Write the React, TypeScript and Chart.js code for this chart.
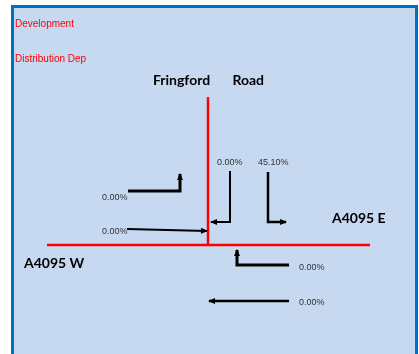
import React, { useEffect, useRef } from "react";
import { Chart, registerables } from "chart.js";

Chart.register(...registerables);

// Diagram coordinates: origin at the junction of the two roads, y up.
const headerLines = ["Development", "Distribution Dep"];
const headerAnchors = [
  { x: -193, y: 221 },
  { x: -193, y: 186 },
];

const roadNames = ["Fringford   Road", "A4095 W", "A4095 E"];
const roadNameAnchors = [
  { x: 0.5, y: 165, align: "center" },
  { x: -184, y: -18, align: "left" },
  { x: 124, y: 27, align: "left" },
];

const roads = [
  [{ x: 0, y: 148 }, { x: 0, y: 0 }],
  [{ x: -161, y: 0 }, { x: 162, y: 0 }],
];

const movements = ["W left", "W ahead", "N right", "N left", "E right", "E ahead"];
const turnShares = [0.0, 0.0, 0.0, 45.1, 0.0, 0.0];
const arrowPaths = [
  [{ x: -80, y: 54 }, { x: -28, y: 54 }, { x: -28, y: 71 }],
  [{ x: -81, y: 16 }, { x: -1, y: 14 }],
  [{ x: 22, y: 74 }, { x: 22, y: 23 }, { x: 3, y: 23 }],
  [{ x: 60, y: 73 }, { x: 60, y: 23 }, { x: 78, y: 23 }],
  [{ x: 81, y: -20 }, { x: 29, y: -20 }, { x: 29, y: -5 }],
  [{ x: 81, y: -56 }, { x: 1, y: -56 }],
];
const arrowWidths = [3, 2, 2, 2.5, 3, 2.5];
const labelAnchors = [
  { x: -106, y: 47 },
  { x: -106, y: 13 },
  { x: 9, y: 82 },
  { x: 50, y: 82 },
  { x: 91, y: -23 },
  { x: 91, y: -58 },
];

const X_MIN = -194;
const X_MAX = 207;
const Y_MIN = -109;
const Y_MAX = 237;

const FILL = "#c6d9f0";
const BORDER = "#0070c0";
const ROAD = "#ff0000";

export default function App() {
  const ref = useRef<HTMLCanvasElement | null>(null);

  useEffect(() => {
    if (!ref.current) return;

    const boxPlugin = {
      id: "box",
      beforeDraw(chart: any) {
        const { ctx, chartArea } = chart;
        ctx.save();
        ctx.fillStyle = "#ffffff";
        ctx.fillRect(0, 0, chart.width, chart.height);
        ctx.fillStyle = FILL;
        ctx.fillRect(chartArea.left, chartArea.top, chartArea.right - chartArea.left, chartArea.bottom - chartArea.top);
        ctx.strokeStyle = BORDER;
        ctx.lineWidth = 3;
        ctx.beginPath();
        ctx.moveTo(chartArea.left - 1.5, chartArea.bottom + 10);
        ctx.lineTo(chartArea.left - 1.5, chartArea.top - 1.5);
        ctx.lineTo(chartArea.right + 1.5, chartArea.top - 1.5);
        ctx.lineTo(chartArea.right + 1.5, chartArea.bottom + 10);
        ctx.stroke();
        ctx.restore();
      },
    };

    const annotPlugin = {
      id: "annot",
      afterDatasetsDraw(chart: any) {
        const { ctx } = chart;
        const xs = chart.scales.x;
        const ys = chart.scales.y;
        const px = (v: number) => xs.getPixelForValue(v);
        const py = (v: number) => ys.getPixelForValue(v);
        ctx.save();
        // arrowheads
        chart.data.datasets.forEach((ds: any, i: number) => {
          if (!ds.isArrow) return;
          const pts = chart.getDatasetMeta(i).data;
          const a = pts[pts.length - 2];
          const b = pts[pts.length - 1];
          const ang = Math.atan2(b.y - a.y, b.x - a.x);
          const len = 6;
          const hw = 3;
          ctx.fillStyle = "#000000";
          ctx.beginPath();
          ctx.moveTo(b.x + Math.cos(ang) * 1, b.y + Math.sin(ang) * 1);
          ctx.lineTo(b.x - Math.cos(ang) * len - Math.sin(ang) * hw, b.y - Math.sin(ang) * len + Math.cos(ang) * hw);
          ctx.lineTo(b.x - Math.cos(ang) * len + Math.sin(ang) * hw, b.y - Math.sin(ang) * len - Math.cos(ang) * hw);
          ctx.closePath();
          ctx.fill();
        });
        // percentages
        ctx.font = "9px 'Liberation Sans', Arial, sans-serif";
        ctx.fillStyle = "#333333";
        ctx.textBaseline = "middle";
        ctx.textAlign = "left";
        turnShares.forEach((v, i) => {
          ctx.fillText(v.toFixed(2) + "%", px(labelAnchors[i].x), py(labelAnchors[i].y));
        });
        // header
        ctx.font = "10px 'Liberation Sans', Arial, sans-serif";
        ctx.fillStyle = "#ff0000";
        headerLines.forEach((t, i) => {
          ctx.fillText(t, px(headerAnchors[i].x), py(headerAnchors[i].y));
        });
        // road names
        ctx.font = "bold 14px Lato, 'Open Sans', sans-serif";
        ctx.fillStyle = "#000000";
        roadNames.forEach((t, i) => {
          const a = roadNameAnchors[i];
          ctx.textAlign = a.align;
          (ctx as any).wordSpacing = i === 0 ? "4px" : "0px";
          ctx.fillText(t, px(a.x), py(a.y));
        });
        (ctx as any).wordSpacing = "0px";
        ctx.restore();
      },
    };

    const datasets: any[] = [
      ...roads.map((r) => ({
        data: r,
        showLine: true,
        borderColor: ROAD,
        borderWidth: 2.5,
        pointRadius: 0,
        borderCapStyle: "butt",
      })),
      ...arrowPaths.map((p, i) => ({
        label: movements[i],
        data: p,
        showLine: true,
        isArrow: true,
        borderColor: "#000000",
        borderWidth: arrowWidths[i],
        pointRadius: 0,
        borderJoinStyle: "miter",
        borderCapStyle: "butt",
      })),
    ];

    const chart = new Chart(ref.current, {
      type: "scatter",
      data: { datasets },
      options: {
        responsive: false,
        animation: false,
        layout: { padding: { left: 14, right: 4, top: 8, bottom: 0 } },
        plugins: { legend: { display: false }, tooltip: { enabled: false } },
        scales: {
          x: { type: "linear", min: X_MIN, max: X_MAX, display: false },
          y: { type: "linear", min: Y_MIN, max: Y_MAX, display: false },
        },
      },
      plugins: [boxPlugin, annotPlugin],
    } as any);

    return () => chart.destroy();
  }, []);

  return (
    <div style={{ position: "absolute", left: 0, top: 0, width: 419, height: 354 }}>
      <canvas ref={ref} width={419} height={354} style={{ display: "block", width: 419, height: 354 }} />
    </div>
  );
}
